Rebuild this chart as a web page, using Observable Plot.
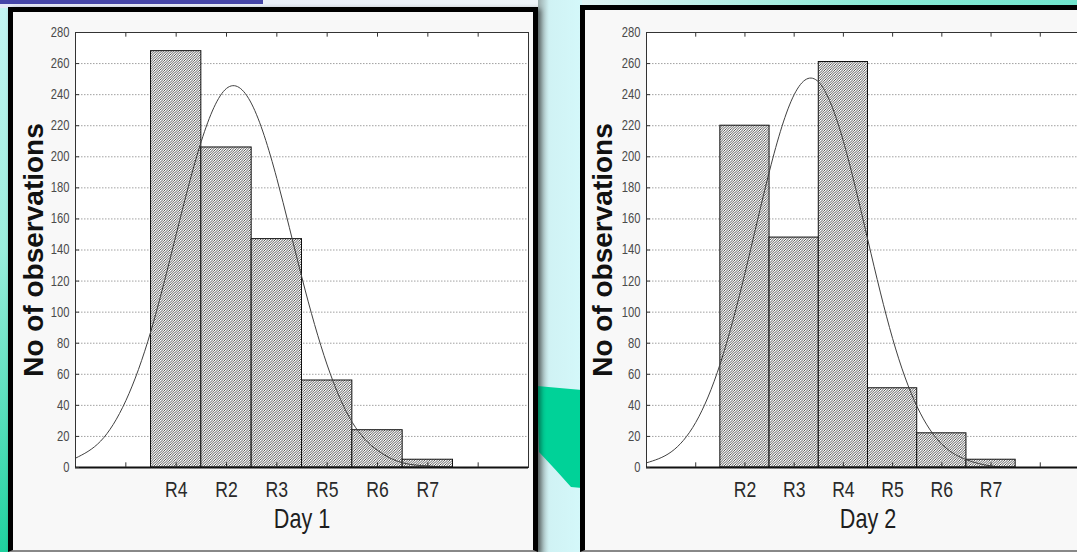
<!DOCTYPE html>
<html><head><meta charset="utf-8">
<script src="https://cdn.jsdelivr.net/npm/d3@7"></script>
<script src="https://cdn.jsdelivr.net/npm/@observablehq/plot@0.6"></script>
<style>
html,body{margin:0;padding:0;width:1077px;height:552px;overflow:hidden;}
body{position:relative;background:linear-gradient(180deg,#c4f5f3 0%,#9aeedd 45%,#1fd29f 100%);}
#topstrip{position:absolute;left:0;top:0;width:1077px;height:8px;background:linear-gradient(90deg,#e4e8f8 0%,#eef4f8 50%,#8ce9d6 80%,#70e4cc 100%);}
#topbar{position:absolute;left:0;top:0;width:263px;height:4px;background:#4545a8;}
#gap{position:absolute;left:538px;top:0;width:44px;height:552px;background:linear-gradient(90deg,#9aa 0%,#d0f2f4 25%,#d4f8fa 100%);}
.frame{position:absolute;background:#f8f8f8;border:5px solid #000;box-sizing:border-box;border-bottom:2px solid #888;}
#f1{left:8px;top:7px;width:530px;height:545px;box-shadow:3px 2px 5px rgba(0,0,0,.45);}
#f2{left:580px;top:5px;width:520px;height:547px;}
.chart{position:absolute;top:0;height:552px;}
.chart svg{max-width:none !important;}
#c1{left:0;width:538px;} #c2{left:585px;width:510px;}
</style>
</head><body>
<svg width="0" height="0" style="position:absolute">
<defs><pattern id="hatch" patternUnits="userSpaceOnUse" width="2.5" height="2.5">
<rect width="2.5" height="2.5" fill="#fff"/>
<path d="M-0.625,0.625 L0.625,-0.625 M0,2.5 L2.5,0 M1.875,3.125 L3.125,1.875" stroke="#2a2a2a" stroke-width="0.8"/>
</pattern></defs></svg>
<div id="topstrip"></div><div id="topbar"></div>
<div id="gap"></div>
<svg style="position:absolute;left:0;top:0" width="1077" height="552"><path d="M537,386 L582,390 L582,488 L571,487 Q556,470 539,452 Z" fill="#00d298"/></svg>
<div class="frame" id="f1"></div>
<div class="frame" id="f2"></div>
<div class="chart" id="c1"></div>
<div class="chart" id="c2"></div>
<script>
// ---- data ----
const yLabel = "No of observations";
const xLabels = ["Day 1", "Day 2"];
const yTicks = [0, 20, 40, 60, 80, 100, 120, 140, 160, 180, 200, 220, 240, 260, 280];
const xTicks = [1, 2, 3, 4, 5, 6, 7, 8];

const day1Cats = ["R4", "R2", "R3", "R5", "R6", "R7"];
const day1Counts = [268, 206, 147, 56, 24, 5];
const day2Cats = ["R2", "R3", "R4", "R5", "R6", "R7"];
const day2Counts = [220, 148, 261, 51, 22, 5];

// fitted curve at half-bin steps
const curveX = [0, 0.5, 1, 1.5, 2, 2.5, 3, 3.5, 4, 4.5, 5, 5.5, 6, 6.5, 7, 7.5, 8, 8.5, 9];
const day1Curve = [6, 17, 43, 88, 150, 210, 244, 234, 186, 122, 66, 29, 11, 3, 1, 0, 0, 0, 0];
const day2Curve = [3, 10, 29, 67, 125, 191, 240, 248, 210, 146, 83, 39, 15, 5, 1, 0, 0, 0, 0];

const sans = "'Liberation Sans', Arial, sans-serif";

// emulate a narrow face: set size, squeeze text horizontally around its anchor
function squeeze(t, k, size) {
  t.style("font-size", size + "px");
  const x = +t.attr("x") || 0;
  const tr = t.attr("transform") || "";
  t.attr("transform", `${tr} translate(${x},0) scale(${k},1) translate(${-x},0)`);
}

function makeChart(cats, counts, curve, xLabel, cfg) {
  const bars = cats.map((c, i) => ({cat: c, x1: i + 1.5, x2: i + 2.5, n: counts[i]}));
  const line = curveX.map((x, i) => ({x, y: curve[i]}));
  const svg = Plot.plot({
    width: cfg.width, height: 552,
    marginLeft: cfg.ml, marginRight: cfg.mr, marginTop: 32, marginBottom: 85,
    style: {background: "transparent", fontFamily: sans, overflow: "visible", maxWidth: "none"},
    x: {domain: [0, 9]},
    y: {domain: [0, 280]},
    marks: [
      Plot.frame({fill: "white", stroke: null}),
      Plot.gridY(yTicks.filter(d => d > 0 && d < 280), {stroke: "#8a8a8a", strokeOpacity: 0.8, strokeDasharray: "1.5,1.5"}),
      Plot.rectY(bars, {x1: "x1", x2: "x2", y: "n", fill: "url(#hatch)", stroke: "#111", strokeWidth: 1}),
      Plot.line(line, {x: "x", y: "y", curve: "natural", stroke: "#404040", strokeWidth: 1}),
      Plot.frame({stroke: "#333", strokeWidth: 1}),
      Plot.ruleY([0], {stroke: "#111", strokeWidth: 2}),
      Plot.ruleX(xTicks, {y1: 0, y2: 3, stroke: "#333"}),
      Plot.ruleX(xTicks, {y1: 277, y2: 280, stroke: "#333"}),
      Plot.ruleY(yTicks, {x1: 0, x2: 0.08, stroke: "#333"}),
      Plot.axisY(yTicks, {tickSize: 0, tickPadding: 6, fontSize: 14, color: "#4a4a4a", label: null}),
      Plot.axisX(xTicks, {tickSize: 0, tickPadding: 14, fontSize: 22, color: "#2a2a2a", label: null,
        tickFormat: d => cats[d - 2] ?? ""}),
      Plot.text([xLabel], {frameAnchor: "bottom", dy: 60, fontSize: 27, fill: "#1e1e1e"}),
      Plot.text([yLabel], {frameAnchor: "left", textAnchor: "middle", rotate: -90, dx: cfg.ydx, fontSize: 28, fontWeight: "bold",
        fill: "#111"})
    ]
  });
  d3.select(svg).selectAll("text").each(function () {
    const t = d3.select(this);
    const s = this.textContent.trim();
    if (s === xLabel) squeeze(t, 0.8, 27);
    else if (cats.includes(s)) squeeze(t, 0.8, 22);
    else if (s !== "" && yTicks.includes(+s)) squeeze(t, 0.8, 14);
  });
  return svg;
}

document.getElementById("c1").append(makeChart(day1Cats, day1Counts, day1Curve, xLabels[0], {width: 538, ml: 75, mr: 10, ydx: -41}));
document.getElementById("c2").append(makeChart(day2Cats, day2Counts, day2Curve, xLabels[1], {width: 510, ml: 61, mr: 6, ydx: -43}));
</script>
</body></html>
